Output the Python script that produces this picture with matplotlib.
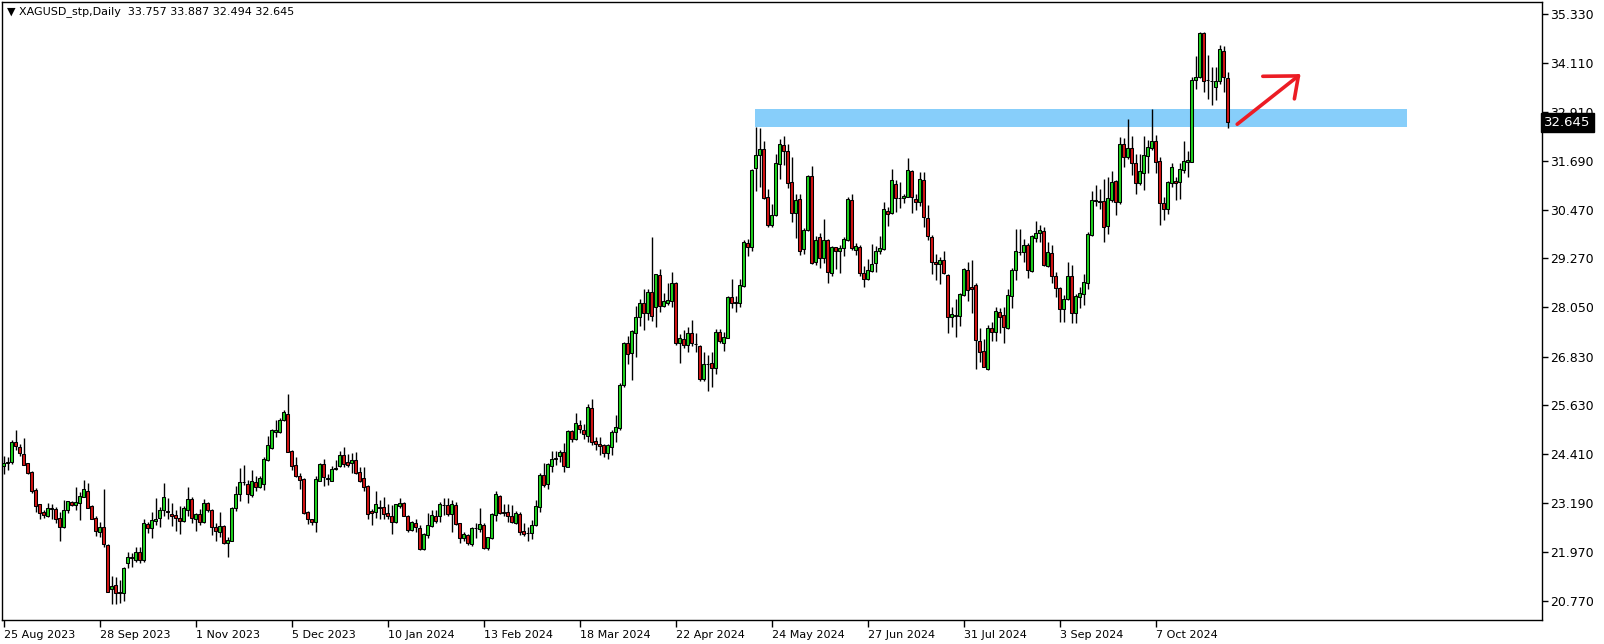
import numpy as np
import matplotlib.pyplot as plt
import matplotlib.transforms as mtransforms

# XAGUSD daily, 25 Aug 2023 .. 31 Oct 2024 (one value per trading day)
opens = [
    24.12, 24.20, 24.21, 24.70, 24.58, 24.40, 24.18, 23.96, 23.52, 23.16,
    22.96, 22.87, 23.06, 23.04, 22.83, 22.61, 23.01, 23.22, 23.15, 23.20,
    23.35, 23.49, 23.12, 22.83, 22.48, 22.61, 22.14, 21.05, 21.16, 20.98,
    20.95, 21.71, 21.84, 21.78, 21.99, 21.78, 22.67, 22.58, 22.75, 22.82,
    23.01, 23.00, 22.91, 22.90, 22.83, 22.76, 23.02, 23.30, 22.81, 22.92,
    22.73, 23.19, 23.02, 22.59, 22.48, 22.62, 22.21, 22.26, 23.06, 23.41,
    23.71, 23.66, 23.39, 23.71, 23.59, 23.66, 24.26, 24.57, 24.97, 24.97,
    25.26, 25.41, 24.49, 24.14, 23.87, 23.79, 22.98, 22.80, 22.73, 23.75,
    24.16, 23.80, 23.75, 24.03, 24.12, 24.39, 24.21, 24.18, 24.26, 23.96,
    23.81, 23.62, 22.99, 22.98, 23.08, 23.09, 22.94, 22.87, 22.72, 23.11,
    23.19, 22.88, 22.53, 22.69, 22.57, 22.05, 22.40, 22.63, 22.87, 22.87,
    23.14, 23.14, 22.91, 23.14, 22.69, 22.32, 22.40, 22.18, 22.57, 22.55,
    22.65, 22.09, 22.32, 22.90, 23.37, 22.95, 22.96, 22.87, 22.69, 22.91,
    22.50, 22.45, 22.44, 22.64, 23.09, 23.88, 23.66, 24.11, 24.29, 24.37,
    24.45, 24.10, 24.98, 24.78, 25.13, 25.02, 24.87, 25.55, 24.73, 24.66,
    24.63, 24.43, 24.59, 24.95, 25.05, 26.12, 27.16, 26.91, 27.41, 27.82,
    28.15, 27.92, 28.43, 28.07, 28.86, 28.09, 28.17, 28.21, 28.65, 27.16,
    27.27, 27.13, 27.41, 27.15, 27.10, 26.27, 26.64, 26.66, 26.54, 27.43,
    27.18, 27.30, 28.32, 28.17, 28.15, 28.58, 29.64, 29.56, 31.51, 31.84,
    31.98, 30.79, 30.11, 30.35, 31.61, 32.08, 31.94, 31.16, 30.39, 30.74,
    29.49, 29.97, 31.32, 29.19, 29.81, 29.27, 29.73, 28.91, 29.54, 29.44,
    29.52, 29.73, 30.72, 29.48, 29.56, 28.91, 28.75, 28.96, 29.15, 29.44,
    29.49, 30.45, 30.39, 31.12, 30.78, 30.78, 30.80, 31.44, 30.74, 30.66,
    31.22, 30.26, 29.81, 29.17, 29.12, 29.23, 28.86, 27.82, 27.85, 27.85,
    28.36, 28.98, 28.57, 28.61, 27.22, 26.97, 26.52, 27.53, 27.43, 27.93,
    27.86, 27.53, 28.34, 28.99, 29.42, 29.42, 29.60, 28.96, 29.78, 29.89,
    29.95, 29.09, 29.40, 28.83, 28.53, 28.02, 28.25, 28.82, 27.91, 28.32,
    28.38, 28.67, 29.85, 30.70, 30.70, 30.69, 30.08, 30.73, 31.20, 30.68,
    32.11, 31.79, 32.00, 31.63, 31.14, 31.40, 31.82, 32.00, 32.18, 31.69,
    30.64, 30.49, 31.15, 31.19, 31.17, 31.46, 31.67, 31.67, 33.71, 33.78,
    34.86, 33.69, 33.68, 33.53, 33.68, 34.43, 33.757,
]
highs = [
    24.35, 24.33, 24.76, 25.01, 24.65, 24.80, 24.20, 24.00, 23.56, 23.18,
    23.02, 23.20, 23.17, 23.10, 22.98, 23.27, 23.25, 23.25, 23.58, 23.48,
    23.77, 23.68, 23.14, 22.87, 22.73, 23.54, 22.18, 21.38, 21.37, 21.28,
    21.61, 21.99, 21.96, 22.11, 22.11, 22.79, 22.73, 22.98, 23.31, 23.10,
    23.68, 23.31, 23.19, 23.02, 23.12, 23.12, 23.58, 23.34, 22.95, 23.04,
    23.29, 23.23, 23.05, 22.69, 22.96, 22.65, 22.34, 23.09, 23.62, 24.06,
    24.14, 23.77, 24.01, 23.87, 23.87, 24.33, 24.86, 25.03, 25.26, 25.30,
    25.50, 25.90, 24.52, 24.33, 23.95, 23.81, 23.00, 22.81, 23.87, 24.20,
    24.28, 23.92, 24.11, 24.26, 24.49, 24.58, 24.41, 24.43, 24.47, 24.08,
    24.08, 23.64, 23.04, 23.49, 23.27, 23.35, 23.16, 23.15, 23.18, 23.31,
    23.23, 22.90, 22.76, 22.79, 22.65, 22.44, 22.94, 23.02, 23.02, 23.23,
    23.31, 23.31, 23.27, 23.23, 22.71, 22.48, 22.43, 22.61, 22.69, 23.08,
    22.69, 22.36, 22.94, 23.49, 23.40, 23.17, 23.17, 23.15, 23.00, 22.98,
    22.69, 22.61, 22.77, 23.27, 23.93, 24.20, 24.20, 24.49, 24.49, 24.51,
    24.69, 25.02, 25.02, 25.44, 25.26, 25.16, 25.65, 25.77, 24.84, 24.84,
    24.66, 24.66, 25.01, 25.38, 26.17, 27.20, 27.34, 27.49, 28.09, 28.25,
    28.50, 28.50, 29.79, 28.88, 29.00, 28.42, 28.65, 28.92, 28.69, 27.39,
    27.49, 27.56, 27.74, 27.42, 27.12, 26.95, 26.87, 26.95, 27.52, 27.51,
    27.43, 28.34, 28.75, 28.34, 28.75, 29.73, 29.75, 31.50, 32.54, 32.50,
    32.19, 30.98, 30.62, 31.86, 32.23, 32.31, 32.11, 31.78, 30.86, 30.88,
    30.02, 31.34, 31.56, 29.83, 29.91, 30.25, 29.76, 29.58, 29.56, 29.60,
    29.81, 30.79, 30.87, 29.64, 29.60, 29.08, 29.25, 29.62, 29.58, 29.83,
    30.68, 30.55, 31.48, 31.22, 31.17, 30.86, 31.75, 31.46, 30.88, 31.42,
    31.42, 30.60, 29.85, 29.39, 29.30, 29.44, 28.87, 28.05, 28.25, 28.40,
    29.04, 29.19, 29.23, 28.67, 27.53, 27.27, 27.62, 27.70, 28.05, 28.03,
    28.05, 28.50, 29.04, 29.99, 29.99, 29.74, 29.64, 29.85, 30.20, 30.10,
    30.04, 29.68, 29.60, 28.94, 28.57, 28.36, 29.19, 29.11, 28.39, 28.57,
    28.88, 29.93, 30.93, 31.09, 30.98, 31.23, 31.28, 31.44, 31.22, 32.29,
    32.27, 32.73, 32.31, 31.86, 31.86, 32.31, 32.22, 32.98, 32.33, 31.79,
    30.80, 31.20, 31.63, 31.30, 31.63, 32.18, 31.93, 33.78, 34.29, 34.88,
    34.88, 34.32, 34.01, 34.01, 34.57, 34.54, 33.887,
]
lows = [
    23.91, 24.02, 24.16, 24.50, 24.35, 24.13, 23.92, 23.45, 22.98, 22.81,
    22.83, 22.85, 22.81, 22.71, 22.26, 22.57, 22.94, 23.12, 23.02, 22.77,
    23.34, 23.06, 22.79, 22.38, 22.36, 22.11, 20.98, 20.69, 20.68, 20.70,
    20.77, 21.59, 21.61, 21.74, 21.71, 21.74, 22.44, 22.33, 22.66, 22.61,
    22.86, 22.79, 22.62, 22.51, 22.42, 22.73, 22.86, 22.71, 22.51, 22.65,
    22.71, 22.98, 22.39, 22.26, 22.36, 22.18, 21.85, 22.24, 23.00, 23.25,
    23.64, 23.20, 23.35, 23.50, 23.56, 23.53, 24.25, 24.53, 24.83, 24.93,
    25.22, 24.45, 24.01, 23.83, 23.54, 22.92, 22.67, 22.65, 22.47, 23.73,
    23.62, 23.63, 23.73, 24.01, 24.10, 24.10, 24.10, 23.93, 23.92, 23.72,
    23.50, 22.80, 22.65, 22.83, 22.79, 22.81, 22.80, 22.43, 22.71, 23.08,
    22.86, 22.48, 22.50, 22.48, 22.03, 22.03, 22.32, 22.61, 22.69, 22.73,
    22.90, 22.88, 22.48, 22.65, 22.21, 22.24, 22.15, 22.13, 22.32, 22.48,
    22.05, 22.03, 22.30, 22.76, 22.91, 22.86, 22.73, 22.69, 22.67, 22.40,
    22.38, 22.25, 22.30, 22.62, 22.98, 23.60, 23.54, 23.97, 24.14, 24.22,
    23.97, 24.08, 24.72, 24.76, 24.94, 24.78, 24.72, 24.64, 24.51, 24.39,
    24.33, 24.30, 24.39, 24.72, 25.02, 26.08, 26.65, 26.25, 26.83, 27.59,
    27.49, 27.74, 27.72, 27.57, 27.95, 28.05, 28.11, 28.05, 27.12, 26.66,
    27.04, 26.95, 27.09, 26.95, 26.23, 26.23, 25.98, 26.08, 26.40, 27.18,
    26.98, 27.28, 28.03, 27.95, 28.07, 28.57, 29.33, 29.44, 30.93, 31.05,
    30.74, 30.06, 30.04, 30.32, 31.23, 31.59, 31.01, 30.18, 29.77, 29.35,
    29.38, 29.96, 29.13, 29.11, 29.02, 29.16, 28.65, 28.82, 29.00, 28.91,
    29.34, 29.69, 29.48, 29.35, 28.82, 28.55, 28.73, 28.94, 28.94, 29.39,
    29.48, 30.08, 30.37, 30.41, 30.51, 30.64, 30.79, 30.39, 30.47, 30.57,
    30.04, 29.73, 28.87, 28.73, 28.63, 28.88, 27.41, 27.57, 27.31, 27.60,
    28.34, 28.20, 27.91, 26.52, 26.70, 26.56, 26.50, 27.22, 27.22, 27.42,
    27.16, 27.51, 28.03, 28.73, 29.35, 29.19, 28.77, 28.94, 29.68, 29.68,
    29.08, 29.05, 28.65, 28.32, 27.70, 27.70, 28.24, 27.67, 27.67, 28.03,
    28.11, 28.51, 29.82, 30.57, 30.49, 29.68, 29.87, 30.68, 30.35, 30.62,
    31.55, 31.74, 31.34, 30.87, 31.09, 30.97, 31.38, 31.96, 31.40, 30.11,
    30.21, 30.36, 31.05, 30.73, 30.74, 31.40, 31.30, 31.65, 33.47, 33.76,
    33.41, 33.23, 33.08, 33.20, 33.61, 33.41, 32.494,
]
closes = [
    24.20, 24.21, 24.70, 24.61, 24.43, 24.15, 23.95, 23.50, 23.13, 22.94,
    22.90, 23.06, 23.05, 22.79, 22.61, 23.02, 23.24, 23.15, 23.22, 23.37,
    23.54, 23.08, 22.81, 22.51, 22.61, 22.17, 20.99, 21.13, 20.97, 20.95,
    21.57, 21.86, 21.85, 21.99, 21.78, 22.69, 22.58, 22.77, 22.81, 23.02,
    23.34, 22.96, 22.87, 22.83, 22.76, 23.08, 23.30, 22.83, 22.92, 22.73,
    23.19, 23.02, 22.59, 22.51, 22.62, 22.21, 22.28, 23.06, 23.41, 23.71,
    23.72, 23.41, 23.74, 23.60, 23.82, 24.29, 24.64, 25.01, 25.01, 25.26,
    25.45, 24.47, 24.12, 23.87, 23.77, 22.95, 22.79, 22.73, 23.78, 24.16,
    23.83, 23.81, 24.04, 24.06, 24.39, 24.16, 24.14, 24.26, 23.95, 23.74,
    23.60, 22.92, 22.94, 23.16, 23.08, 22.92, 22.86, 22.73, 23.16, 23.19,
    22.88, 22.53, 22.72, 22.59, 22.05, 22.43, 22.64, 22.89, 22.76, 23.17,
    23.15, 22.91, 23.17, 22.67, 22.32, 22.43, 22.19, 22.57, 22.58, 22.67,
    22.09, 22.34, 22.91, 23.41, 22.94, 22.96, 22.86, 22.72, 22.94, 22.48,
    22.42, 22.44, 22.65, 23.12, 23.88, 23.64, 24.16, 24.30, 24.31, 24.45,
    24.12, 24.98, 24.78, 25.17, 25.03, 24.91, 25.57, 24.72, 24.65, 24.61,
    24.43, 24.63, 24.95, 25.07, 26.12, 27.18, 26.89, 27.47, 27.82, 28.15,
    27.92, 28.43, 27.85, 28.87, 28.09, 28.21, 28.23, 28.65, 27.18, 27.28,
    27.13, 27.42, 27.18, 27.14, 26.27, 26.64, 26.65, 26.54, 27.43, 27.22,
    27.31, 28.32, 28.15, 28.18, 28.60, 29.67, 29.56, 31.46, 31.84, 31.98,
    30.78, 30.10, 30.35, 31.63, 32.10, 31.94, 31.13, 30.39, 30.72, 29.46,
    29.97, 31.32, 29.15, 29.73, 29.27, 29.73, 28.94, 29.56, 29.44, 29.52,
    29.74, 30.74, 29.52, 29.58, 28.90, 28.75, 28.98, 29.12, 29.45, 29.52,
    30.50, 30.37, 31.22, 30.76, 30.77, 30.82, 31.46, 30.79, 30.66, 31.23,
    30.29, 29.83, 29.19, 29.12, 29.23, 28.90, 27.82, 27.90, 27.87, 28.39,
    29.00, 28.48, 28.51, 27.24, 26.95, 26.58, 27.53, 27.45, 27.96, 27.82,
    27.56, 28.36, 28.97, 29.45, 29.43, 29.60, 28.98, 29.82, 29.89, 29.97,
    29.10, 29.42, 28.84, 28.53, 28.01, 28.25, 28.82, 27.92, 28.34, 28.40,
    28.68, 29.88, 30.72, 30.71, 30.68, 30.06, 30.78, 31.16, 30.68, 32.11,
    31.79, 32.00, 31.63, 31.15, 31.44, 31.84, 32.03, 32.18, 31.67, 30.65,
    30.49, 31.16, 31.53, 31.15, 31.50, 31.69, 31.71, 33.71, 33.78, 34.86,
    33.68, 33.70, 33.67, 33.68, 34.46, 33.78, 32.645,
]

date_labels = ['25 Aug 2023', '28 Sep 2023', '1 Nov 2023', '5 Dec 2023', '10 Jan 2024',
               '13 Feb 2024', '18 Mar 2024', '22 Apr 2024', '24 May 2024', '27 Jun 2024',
               '31 Jul 2024', '3 Sep 2024', '7 Oct 2024']
bars_per_label = 24
price_ticks = [35.330, 34.110, 32.910, 31.690, 30.470, 29.270, 28.050,
               26.830, 25.630, 24.410, 23.190, 21.970, 20.770]

# resistance zone (bar index from/to, price low/high) and hand-drawn arrow
zone_x = [187.9, 350.8]
zone_y = [32.54, 32.98]
arrow_shaft = [(308.4, 32.60), (323.7, 33.80)]
arrow_head1 = [(314.8, 33.79), (323.7, 33.80)]
arrow_head2 = [(323.7, 33.80), (322.7, 33.23)]

header = '\u25BC XAGUSD_stp,Daily  33.757 33.887 32.494 32.645'

o = np.array(opens); h = np.array(highs); l = np.array(lows); c = np.array(closes)
x = np.arange(len(o))
up = c >= o

W, H = 1604, 644
fig = plt.figure(figsize=(W / 100, H / 100), dpi=100)
ax = fig.add_axes([2 / W, 1 - 620 / H, (1542 - 2) / W, (620 - 2) / H])

ax.add_patch(plt.Rectangle((zone_x[0], zone_y[0]), zone_x[1] - zone_x[0], zone_y[1] - zone_y[0],
                           facecolor='#87cefa', edgecolor='none', zorder=1))

ax.vlines(x, l, h, color='black', linewidth=1.0, zorder=2)
bottoms = np.minimum(o, c)
heights = np.maximum(np.abs(c - o), 0.004)
ax.bar(x[up], heights[up], bottom=bottoms[up], width=0.68, color='#1ed21e',
       edgecolor='black', linewidth=0.75, zorder=3)
ax.bar(x[~up], heights[~up], bottom=bottoms[~up], width=0.68, color='#d21414',
       edgecolor='black', linewidth=0.75, zorder=3)

for seg in (arrow_shaft, arrow_head1, arrow_head2):
    ax.plot([seg[0][0], seg[1][0]], [seg[0][1], seg[1][1]], color='#ec1c24',
            linewidth=2.6, solid_capstyle='round', zorder=4)

ax.set_xlim(-0.4, 384.6)
ax.set_ylim(20.29, 35.635)

ax.set_xticks(np.arange(len(date_labels)) * bars_per_label)
ax.set_xticklabels(date_labels)
for t in ax.get_xticklabels():
    t.set_horizontalalignment('left')
ax.tick_params(axis='x', direction='out', length=5, width=1, pad=2, labelsize=8)

ax.yaxis.tick_right()
ax.set_yticks(price_ticks)
ax.set_yticklabels(['%.3f' % v for v in price_ticks])
ax.tick_params(axis='y', direction='out', length=4, width=1, pad=2, labelsize=9)

for s in ax.spines.values():
    s.set_linewidth(1)
    s.set_color('black')

# current price tag drawn over the axis labels, as in the terminal
trans = mtransforms.blended_transform_factory(ax.transAxes, ax.transData)
ax.text(1.0015, closes[-1], '%.3f' % closes[-1], transform=trans, ha='left', va='center',
        color='white', fontsize=9.5, zorder=10, clip_on=False,
        bbox=dict(boxstyle='square,pad=0.22', facecolor='black', edgecolor='black'))

ax.text(0.003, 0.994, header, transform=ax.transAxes, ha='left', va='top', fontsize=8)

fig.savefig('out.png', dpi=100)
